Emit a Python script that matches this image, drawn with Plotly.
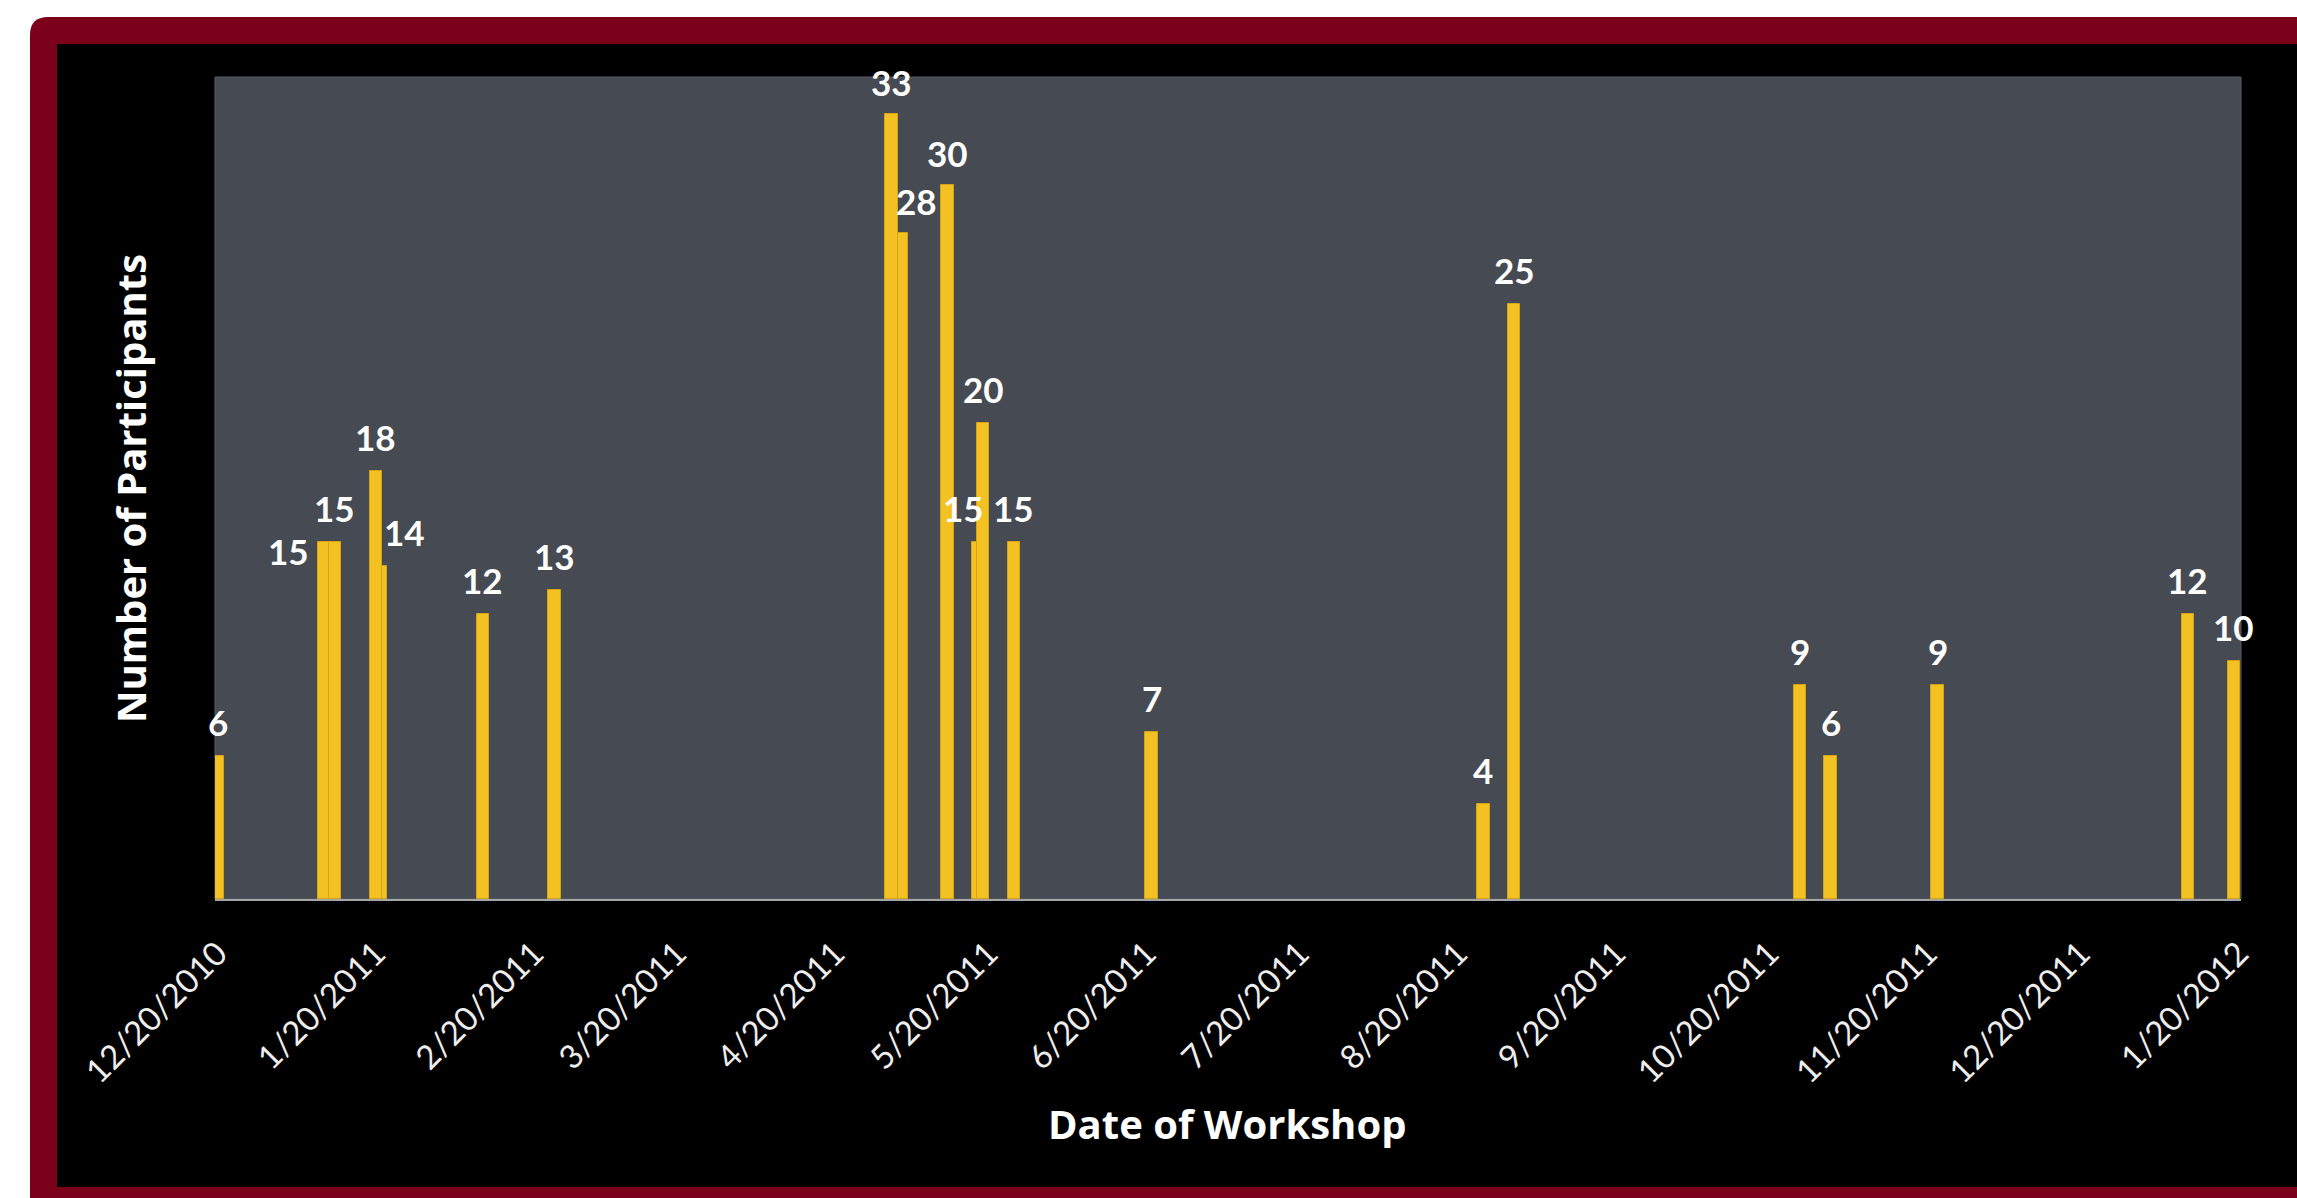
import plotly.graph_objects as go

# ---- data ----
workshop_dates = ["2010-12-20", "2011-01-10", "2011-01-12", "2011-01-21", "2011-01-20",
                  "2011-02-10", "2011-02-24", "2011-05-03", "2011-05-01", "2011-05-12",
                  "2011-05-18", "2011-05-19", "2011-05-25", "2011-06-21", "2011-08-25",
                  "2011-08-31", "2011-10-26", "2011-11-01", "2011-11-22", "2012-01-10",
                  "2012-01-19"]
participants = [6, 15, 15, 14, 18, 12, 13, 28, 33, 30, 15, 20, 15, 7, 4, 25, 9, 6, 9, 12, 10]

tick_dates = ["2010-12-20", "2011-01-20", "2011-02-20", "2011-03-20", "2011-04-20",
              "2011-05-20", "2011-06-20", "2011-07-20", "2011-08-20", "2011-09-20",
              "2011-10-20", "2011-11-20", "2011-12-20", "2012-01-20"]
tick_labels = ["12/20/2010", "1/20/2011", "2/20/2011", "3/20/2011", "4/20/2011",
               "5/20/2011", "6/20/2011", "7/20/2011", "8/20/2011", "9/20/2011",
               "10/20/2011", "11/20/2011", "12/20/2011", "1/20/2012"]

# ---- styling: per-label nudges (px) ----
label_dx = [0, -36, 0, 24, 0, 0, 0, 15, 0, 0, -15, 0, 0, 0, 0, 0, 0, 0, 0, 0, 0]
label_dy = [34, -9, 34, 34, 34, 34, 34, 32, 32, 32, 34, 34, 34, 34, 34, 34, 34, 34, 34, 34, 34]

W, H = 2297, 1198
L, R, T, B = 215, 2241, 77, 899


def X(px):
    return (px - L) / (R - L)


def Y(py):
    return (B - py) / (B - T)


GOLD = "#F3C222"
FONT = "Lato"
TITLE_FONT = "Open Sans"

fig = go.Figure()
fig.add_trace(go.Bar(
    x=workshop_dates, y=participants,
    width=2.45 * 86400000,
    marker=dict(color=GOLD, line=dict(color="#D4A414", width=1)),
    hoverinfo="x+y",
))

annotations = []
for d, v, dx, dy in zip(workshop_dates, participants, label_dx, label_dy):
    annotations.append(dict(
        x=d, y=v, xref="x", yref="y", text=str(v), showarrow=False,
        xanchor="center", yanchor="middle", xshift=dx, yshift=dy,
        font=dict(family=FONT, size=35, color="white", weight="bold"),
    ))

annotations.append(dict(
    x=X(130), y=Y(489), xref="paper", yref="paper", text="Number of Participants",
    showarrow=False, textangle=-90, xanchor="center", yanchor="middle",
    font=dict(family=TITLE_FONT, size=40, color="white", weight="bold"),
))
annotations.append(dict(
    x=X(1227), y=Y(1123), xref="paper", yref="paper", text="Date of Workshop",
    showarrow=False, xanchor="center", yanchor="middle",
    font=dict(family=TITLE_FONT, size=40, color="white", weight="bold"),
))

r = 18
frame_path = (f"M {X(30)},{Y(1260)} L {X(30)},{Y(17 + r)} "
              f"Q {X(30)},{Y(17)} {X(30 + r)},{Y(17)} "
              f"L {X(2360)},{Y(17)} L {X(2360)},{Y(1260)} Z")

shapes = [
    dict(type="path", xref="paper", yref="paper", path=frame_path,
         fillcolor="#7B0019", line=dict(width=0), layer="below"),
    dict(type="rect", xref="paper", yref="paper", x0=X(57), x1=X(2360), y0=Y(1187), y1=Y(44),
         fillcolor="#000000", line=dict(width=0), layer="below"),
    dict(type="rect", xref="paper", yref="paper", x0=0, x1=1, y0=0, y1=1,
         fillcolor="#464A52", line=dict(color="#565A62", width=1), layer="below"),
]

fig.update_layout(
    width=W, height=H,
    margin=dict(l=L, r=W - R, t=T, b=H - B, pad=0),
    paper_bgcolor="white", plot_bgcolor="rgba(0,0,0,0)",
    showlegend=False, bargap=0,
    shapes=shapes, annotations=annotations,
    xaxis=dict(
        type="date", range=["2010-12-19 12:00", "2012-01-20 10:00"],
        tickmode="array", tickvals=tick_dates, ticktext=tick_labels,
        tickangle=-45, tickfont=dict(family=FONT, size=33, color="#EDEDED"),
        ticks="outside", ticklen=20, tickcolor="rgba(0,0,0,0)",
        showgrid=False, zeroline=False,
        showline=True, linecolor="#A6A6A6", linewidth=2,
    ),
    yaxis=dict(range=[0, 34.55], visible=False, showgrid=False, zeroline=False),
)

fig.write_html("out.html", config={"displayModeBar": False},
               post_script="document.body.style.margin='0';document.body.style.overflow='hidden';")
